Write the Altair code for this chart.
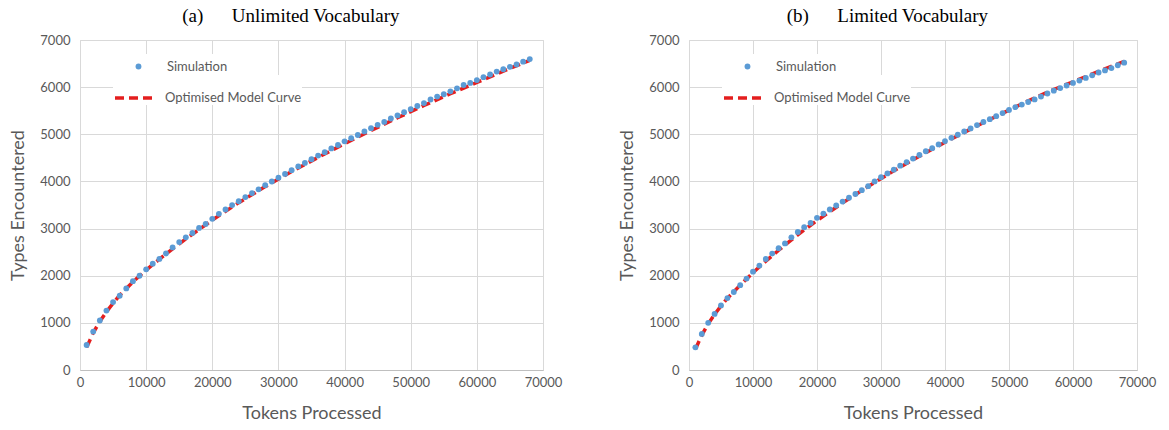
import altair as alt
import pandas as pd

# ---------------- data ----------------
tokens = list(range(1000, 68001, 1000))

sim_unlimited = [530, 815, 1050, 1260, 1440, 1575, 1730, 1885, 2000, 2135,
                 2255, 2356, 2471, 2600, 2713, 2814, 2906, 3013, 3099, 3206,
                 3313, 3405, 3499, 3580, 3668, 3752, 3832, 3920, 3998, 4080,
                 4160, 4238, 4318, 4392, 4470, 4548, 4620, 4700, 4772, 4850,
                 4918, 4985, 5060, 5130, 5200, 5262, 5335, 5400, 5470, 5535,
                 5600, 5662, 5738, 5800, 5850, 5912, 5975, 6045, 6090, 6150,
                 6212, 6268, 6330, 6380, 6430, 6480, 6540, 6595]

sim_limited = [480, 765, 1000, 1190, 1370, 1525, 1655, 1800, 1940, 2085,
               2215, 2355, 2470, 2585, 2685, 2814, 2927, 3028, 3120, 3227,
               3318, 3405, 3490, 3572, 3655, 3735, 3815, 3900, 4000, 4090,
               4170, 4250, 4335, 4410, 4485, 4560, 4640, 4705, 4785, 4855,
               4925, 4990, 5060, 5125, 5195, 5260, 5320, 5385, 5450, 5515,
               5575, 5630, 5685, 5740, 5800, 5865, 5925, 5980, 6035, 6090,
               6140, 6195, 6250, 6310, 6355, 6405, 6465, 6520]

model_tokens = [1000, 2000, 3000, 4000, 5000, 6000, 8000, 10000, 12000, 14000,
                16000, 18000, 20000, 24000, 28000, 32000, 36000, 40000, 44000,
                48000, 52000, 56000, 60000, 64000, 68000]

model_unlimited = [480, 790, 1030, 1235, 1415, 1585, 1870, 2120, 2350, 2570,
                   2780, 2980, 3180, 3550, 3890, 4210, 4510, 4800, 5080,
                   5350, 5610, 5860, 6100, 6340, 6570]

model_limited = [440, 740, 980, 1180, 1360, 1520, 1800, 2065, 2310, 2540,
                 2760, 2970, 3170, 3545, 3895, 4225, 4535, 4830, 5110,
                 5380, 5645, 5895, 6115, 6335, 6545]

x_ticks = [0, 10000, 20000, 30000, 40000, 50000, 60000, 70000]
y_ticks = [0, 1000, 2000, 3000, 4000, 5000, 6000, 7000]

titles = ["(a)" + "\u00a0" * 6 + "Unlimited Vocabulary",
          "(b)" + "\u00a0" * 6 + "Limited Vocabulary"]

BLUE = "#5B9BD5"
RED = "#E41E1E"
GRID = "#D9D9D9"
TEXT = "#595959"


def panel(title, sims, model, width, title_dx):
    df_d = pd.DataFrame({"Tokens": tokens, "Types": sims, "series": "Simulation"})
    df_m = pd.DataFrame({"Tokens": model_tokens, "Types": model,
                         "series": "Optimised Model Curve"})
    x = alt.X("Tokens:Q", scale=alt.Scale(domain=[0, 70000], nice=False),
              axis=alt.Axis(title="Tokens Processed", values=x_ticks, format="d",
                            labelPadding=6, titlePadding=15))
    y = alt.Y("Types:Q", scale=alt.Scale(domain=[0, 7000], nice=False),
              axis=alt.Axis(title="Types Encountered", values=y_ticks, format="d",
                            labelPadding=10, titlePadding=12))
    line = alt.Chart(df_m).mark_line(color=RED, strokeWidth=3.5).encode(
        x=x, y=y,
        strokeDash=alt.StrokeDash(
            "series:N",
            scale=alt.Scale(domain=["Optimised Model Curve"], range=[[9, 5]]),
            legend=alt.Legend(title=None, orient="none", legendX=33, legendY=35,
                              padding=0, symbolType="stroke", symbolSize=1764,
                              symbolStrokeWidth=3.5, symbolStrokeColor=RED,
                              labelOffset=6, fillColor="white",
                              labelFont="Lato", labelFontSize=13,
                              labelColor=TEXT)))
    pts = alt.Chart(df_d).mark_circle(size=34, opacity=1).encode(
        x=x, y=y,
        color=alt.Color(
            "series:N",
            scale=alt.Scale(domain=["Simulation"], range=[BLUE]),
            legend=alt.Legend(title=None, orient="none", legendX=33, legendY=14,
                              padding=6, symbolType="circle", symbolSize=34,
                              symbolOffset=13, symbolOpacity=1,
                              labelOffset=22, fillColor="white",
                              labelFont="Lato", labelFontSize=13,
                              labelColor=TEXT)))
    return alt.layer(line, pts).properties(
        width=width, height=330,
        title=alt.TitleParams(title, anchor="middle", offset=8, frame="bounds",
                              dx=title_dx))


left = panel(titles[0], sim_unlimited, model_unlimited, 463, 5)
right = panel(titles[1], sim_limited, model_limited, 448, 0)

chart = alt.hconcat(left, right, spacing=55).resolve_scale(
    color="independent", strokeDash="independent"
).resolve_legend(
    color="independent", strokeDash="independent"
).properties(
    padding={"left": 9, "top": 6, "right": 2, "bottom": 2}
).configure_view(
    stroke=GRID
).configure_axis(
    gridColor=GRID, domainColor="#BFBFBF", ticks=False, labelFlush=False,
    labelFont="Lato", labelFontSize=13, labelColor=TEXT,
    titleFont="Lato", titleFontSize=18, titleColor=TEXT,
    titleFontWeight="normal"
).configure_axisY(
    domain=False
).configure_title(
    font="Liberation Serif", fontSize=19, color="black", fontWeight="normal"
)

chart.save("out.html", embed_options={"renderer": "svg", "actions": False})
